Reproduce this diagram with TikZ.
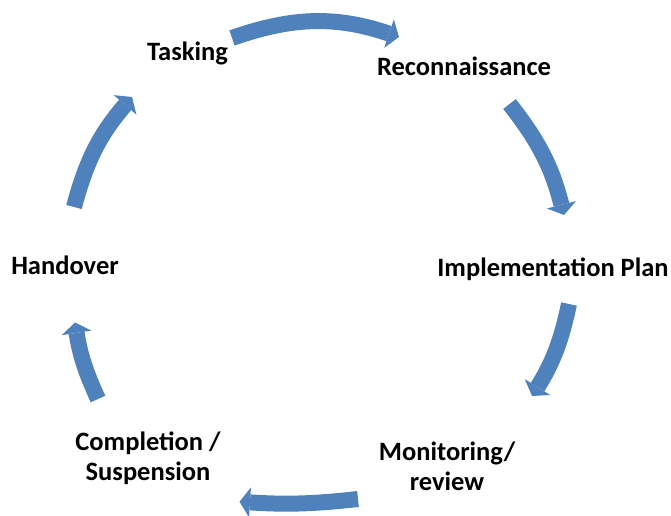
\documentclass[tikz,border=0pt]{standalone}
\usepackage{fontspec}
\setmainfont{Carlito}
\usetikzlibrary{arrows.meta}
\definecolor{cycblue}{HTML}{4F81BD}
\begin{document}
\begin{tikzpicture}[x=1pt,y=1pt,
  cyc/.style={draw=cycblue, line width=16pt,
    -{Triangle[width=30pt,length=10.5pt,line width=0pt,fill=cycblue]}},
  lbl/.style={font=\fontsize{26.5}{30}\selectfont\bfseries, align=center, inner sep=0pt, anchor=base}]
\useasboundingbox (0,0) rectangle (671,515);
% labels (y measured from bottom; base = last line's baseline)
\node[lbl] (task) at (187.5,454) {Tasking};
\node[lbl] (recon) at (464,439) {Reconnaissance};
\node[lbl] (impl) at (553,239) {Implementation Plan};
\node[lbl] (hand) at (65,241) {Handover};
\node[lbl] (comp) at (148,35) {Completion /\\Suspension};
\node[lbl] (mon) at (447,25) {Monitoring/\\review};
% arrow end points
\coordinate (a1s) at (232,477);
\coordinate (a1e) at (399,478);
\coordinate (a2s) at (509.5,411);
\coordinate (a2e) at (564,300);
\coordinate (a3s) at (569,211);
\coordinate (a3e) at (532,119);
\coordinate (a4s) at (358,16);
\coordinate (a4e) at (239.5,13.3);
\coordinate (a5s) at (98,116);
\coordinate (a5e) at (75,192.5);
\coordinate (a6s) at (74,308);
\coordinate (a6e) at (132,418);
\draw[cyc] (a1s) to[bend left=19] (a1e);
\draw[cyc] (a2s) to[bend left=12] (a2e);
\draw[cyc] (a3s) to[bend left=10] (a3e);
\draw[cyc] (a4s) to[bend left=5] (a4e);
\draw[cyc] (a5s) to[bend left=8] (a5e);
\draw[cyc] (a6s) to[bend left=13] (a6e);
\end{tikzpicture}
\end{document}
